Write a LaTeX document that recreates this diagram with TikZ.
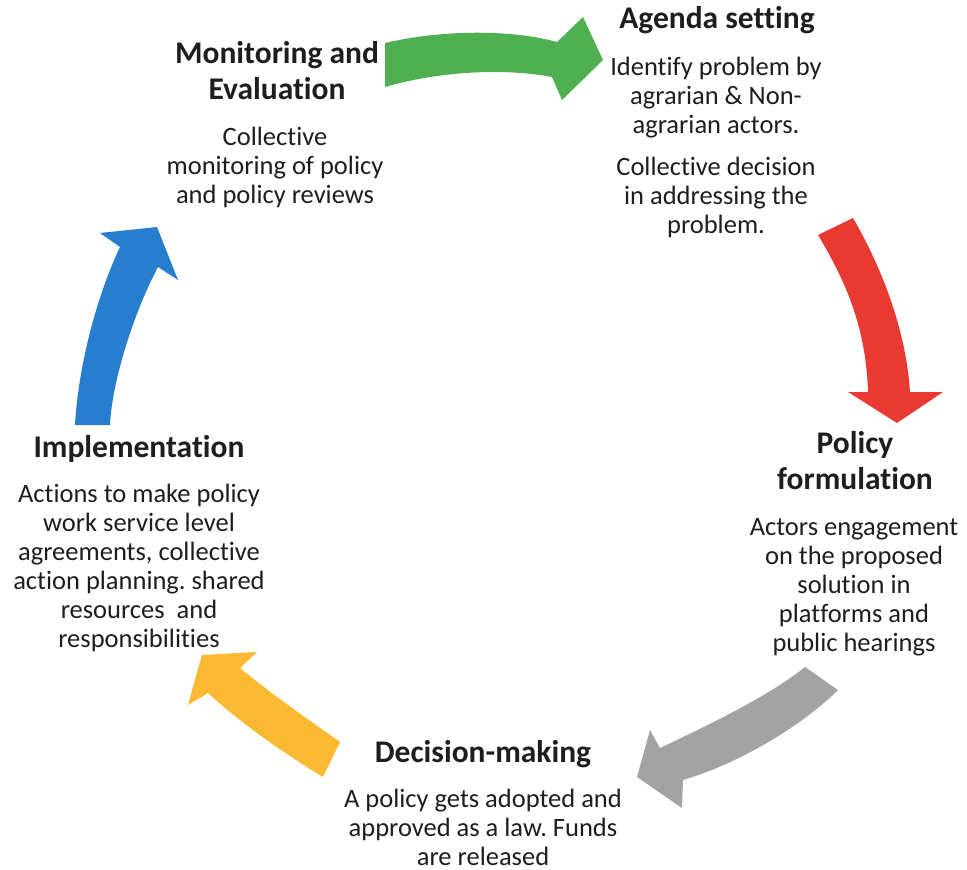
\documentclass[tikz,border=0pt]{standalone}
\usepackage{fontspec}
\setmainfont{Carlito}[Ligatures=NoCommon]
\frenchspacing
\definecolor{txt}{RGB}{30,30,30}
\definecolor{cgreen}{RGB}{78,176,80}
\definecolor{cred}{RGB}{232,58,48}
\definecolor{cgray}{RGB}{163,163,163}
\definecolor{cyellow}{RGB}{251,184,50}
\definecolor{cblue}{RGB}{40,126,206}
\tikzset{
  ttl/.style={anchor=north, align=center, inner sep=0pt, text=txt,
    font=\fontsize{31.5}{36}\selectfont\bfseries\frenchspacing},
  bdy/.style={anchor=north, align=center, inner sep=0pt, text=txt,
    font=\fontsize{26.5}{29}\selectfont\frenchspacing},
  arr/.style={draw=none}
}
\begin{document}
\begin{tikzpicture}[x=1pt,y=-1pt]
\useasboundingbox (0,0) rectangle (967,870);
% arrows
\fill[cgreen,arr] (385,87) -- (385,43) .. controls (440,30) and (510,29) .. (557,42)
  -- (583,17) -- (603,60) -- (562,100) -- (552,77)
  .. controls (505,68) and (440,71) .. cycle;
\fill[cred,arr] (818,235) -- (853,218) .. controls (882,268) and (906,330) .. (910,392)
  -- (943,392) -- (897,423) -- (848,392) -- (868,392)
  .. controls (866,330) and (848,285) .. cycle;
\fill[cgray,arr] (805,667) -- (838,690) .. controls (810,718) and (750,760) .. (683,780)
  -- (682,808) -- (637,777) -- (650,730) -- (660,748)
  .. controls (715,722) and (770,695) .. cycle;
\fill[cyellow,arr] (340,742) -- (323,777) .. controls (290,757) and (245,727) .. (208,693)
  -- (188,705) -- (202,655) -- (257,652) -- (240,668)
  .. controls (275,697) and (315,724) .. cycle;
\fill[cblue,arr] (75,425) -- (110,425) .. controls (112,380) and (135,310) .. (158,267)
  -- (178,280) -- (157,227) -- (100,233) -- (120,247)
  .. controls (95,300) and (78,370) .. cycle;
% texts
\node[ttl] (monT) at (277,37.8) {\strut Monitoring and\\Evaluation};
\node[bdy] (monB) at (275,124.7) {\strut Collective\\monitoring of policy\\and policy reviews};
\node[ttl] (ageT) at (717,2.8) {\strut Agenda setting};
\node[bdy] (ageB) at (716,54.7) {\strut Identify problem by\\agrarian \& Non-\\agrarian actors.\\[13pt]Collective decision\\in addressing the\\problem.};
\node[ttl] (polT) at (855,427.8) {\strut Policy\\formulation};
\node[bdy] (polB) at (854,514.7) {\strut Actors engagement\\on the proposed\\solution in\\platforms and\\public hearings};
\node[ttl] (impT) at (139,431.8) {\strut Implementation};
\node[bdy] (impB) at (139,481.7) {\strut Actions to make policy\\work service level\\agreements, collective\\action planning. shared\\resources\ \ and\\responsibilities};
\node[ttl] (decT) at (483,736.8) {\strut Decision-making};
\node[bdy] (decB) at (483,786.7) {\strut A policy gets adopted and\\approved as a law. Funds\\are released};
\end{tikzpicture}
\end{document}
